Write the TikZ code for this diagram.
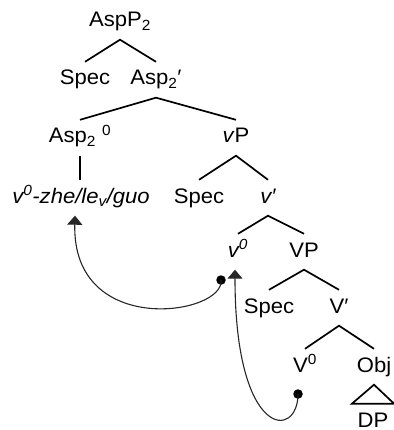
\documentclass[tikz,border=0pt]{standalone}
\usepackage{fontspec}
\setmainfont{Liberation Sans}[FakeStretch=1.05]
\usepackage{tikz}
\usetikzlibrary{arrows.meta}
\tikzstyle{phrase} = [font=\fontsize{21}{25}\selectfont, anchor=base, inner xsep=1pt, inner ysep=8pt, text height=15pt, text depth=4.5pt]
\tikzstyle{branch} = [line width=1.7pt]
\tikzstyle{move} = [line width=1.1pt, black!85, -{Triangle[width=15pt,length=9pt]}]
\tikzstyle{trace} = [circle, fill, inner sep=0pt, minimum size=9.5pt]

\begin{document}
\begin{tikzpicture}[x=1pt,y=-1pt]
            \useasboundingbox (0,0) rectangle (393,430);
            % Aspect phrase on top
            \node[phrase] (aspp) at (120,27) {AspP\textsubscript{2}};
            \node[phrase] (spec1) at (85,85) {Spec};
            \node[phrase] (aspbar) at (156,85) {Asp\textsubscript{2}′};
            \node[phrase] (asphead) at (80,143) {Asp\textsubscript{2} \textsuperscript{0}};
            \node[phrase] (vp) at (236,143) {\textit{v}P};
            \node[phrase] (verb) at (81,203) {\itshape v\textsuperscript{0}-zhe/le\textsubscript{v}/guo};
            % little v shell
            \node[phrase] (spec2) at (199,203) {Spec};
            \node[phrase] (vbar) at (268,203) {\itshape v′};
            \node[phrase] (vhead) at (238,257) {\itshape v\textsuperscript{0}};
            \node[phrase] (bigvp) at (304,257) {VP};
            % lexical VP
            \node[phrase] (spec3) at (269,313) {Spec};
            \node[phrase] (bigvbar) at (339,313) {V′};
            \node[phrase] (bigvhead) at (305,372) {V\textsuperscript{0}};
            \node[phrase] (obj) at (374,372) {Obj};
            \node[phrase, minimum width=42pt] (dp) at (373,427) {DP};
            % branches
            \draw[branch] (spec1.north) -- (aspp.south) -- (aspbar.north);
            \draw[branch] (asphead.north) -- (aspbar.south) -- (vp.north);
            \draw[branch] (asphead.south) -- (asphead.south |- verb.north);
            \draw[branch] (spec2.north) -- (vp.south) -- (vbar.north);
            \draw[branch] (vhead.north) -- (vbar.south) -- (bigvp.north);
            \draw[branch] (spec3.north) -- (bigvp.south) -- (bigvbar.north);
            \draw[branch] (bigvhead.north) -- (bigvbar.south) -- (obj.north);
            \draw[branch] (dp.north west) -- (obj.south) -- (dp.north east) -- cycle;
            % head movement
            \node[trace] (t1) at (221,280) {};
            \node[trace] (t2) at (298,394) {};
            \draw[move] (t1.center) .. controls +(4,35) and +(-3,123) .. ([xshift=-6pt]verb.south);
            \draw[move] (t2.center) .. controls +(0,46) and +(0,170) .. ([xshift=-3pt]vhead.south);
        \end{tikzpicture}
\end{document}
